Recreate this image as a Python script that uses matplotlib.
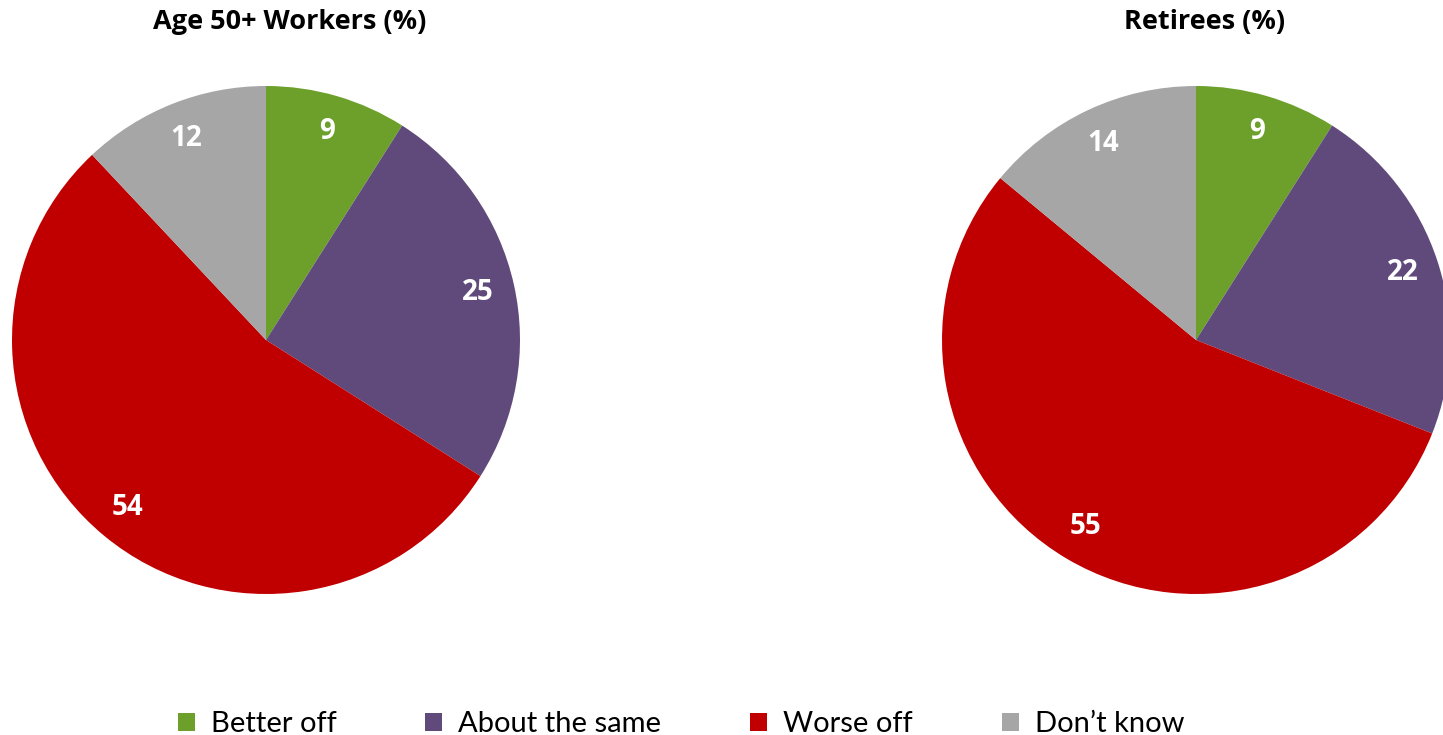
import matplotlib.pyplot as plt
from matplotlib.patches import Patch

plt.rcParams['font.family'] = ['Lato', 'DejaVu Sans']

# Data
categories = ["Better off", "About the same", "Worse off", "Don\u2019t know"]
workers = [9, 25, 54, 12]
retirees = [9, 22, 55, 14]
colors = ["#6CA02A", "#604A7B", "#C00000", "#A6A6A6"]

W, H = 1443, 735
fig = plt.figure(figsize=(W / 100, H / 100), dpi=100)

def pie_axes(cx, cy, r):
    # cx, cy in pixels from top-left
    return fig.add_axes([(cx - r) / W, (H - cy - r) / H, 2 * r / W, 2 * r / H])

def draw_pie(ax, values):
    ax.pie(values, colors=colors, startangle=90, counterclock=False,
           labels=[str(v) for v in values], labeldistance=0.855,
           textprops=dict(color="white", fontsize=20, fontweight="bold",
                          family="Open Sans", ha="center", va="center"),
           wedgeprops=dict(linewidth=0))
    ax.set_xlim(-1, 1)
    ax.set_ylim(-1, 1)
    ax.set_aspect("equal")
    ax.axis("off")

ax1 = pie_axes(266, 340, 254)
draw_pie(ax1, workers)
ax2 = pie_axes(1196, 340, 254)
draw_pie(ax2, retirees)

fig.text(290 / W, 1 - 22 / H, "Age 50+ Workers (%)", ha="center", va="center",
         fontsize=19.5, fontweight="bold", family="Open Sans")
fig.text(1205 / W, 1 - 22 / H, "Retirees (%)", ha="center", va="center",
         fontsize=19.5, fontweight="bold", family="Open Sans")

handles = [Patch(facecolor=c, edgecolor="none") for c in colors]
fig.legend(handles, categories, loc="center", bbox_to_anchor=(681 / W, 1 - 724 / H),
           ncol=4, frameon=False, fontsize=21, handlelength=0.58, handleheight=0.58,
           handletextpad=0.55, columnspacing=3.05)

fig.savefig("out.png", dpi=100)
